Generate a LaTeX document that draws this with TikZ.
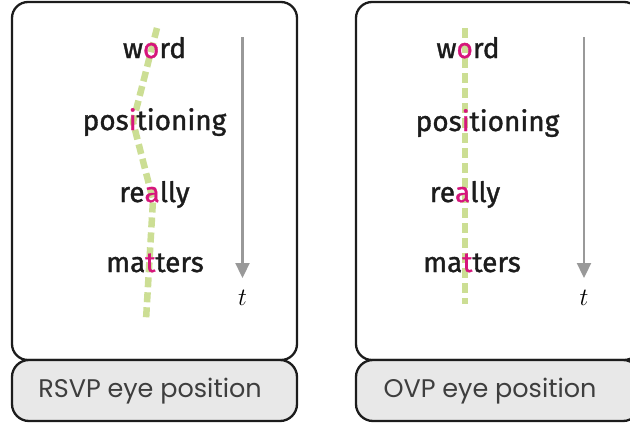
\documentclass[tikz,border=0pt]{standalone}
\usepackage{fontspec}
\setmainfont{Fira Sans}
\newfontfamily\wordfont[FakeBold=1.2]{Fira Sans}
\newfontfamily\labelfont{Poppins}
\usetikzlibrary{arrows.meta}
\definecolor{hl}{HTML}{D6167C}
\definecolor{gaze}{HTML}{CCDE94}
\definecolor{ink}{HTML}{1C1C1C}
\definecolor{boxfill}{HTML}{E8E8E8}
\definecolor{arr}{HTML}{999999}
\newcommand{\hx}[1]{\textcolor{hl}{#1}}
\begin{document}
\begin{tikzpicture}[x=1pt,y=-1pt,
  panel/.style={draw=ink,line width=2.3pt,rounded corners=16pt,fill=white},
  labelbox/.style={draw=ink,line width=2.3pt,rounded corners=17pt,fill=boxfill},
  wordtxt/.style={anchor=base,inner sep=0pt,text=ink,font=\wordfont\fontsize{28}{32}\selectfont},
  labeltxt/.style={inner sep=0pt,text=ink!85,font=\labelfont\fontsize{25.5}{30}\selectfont},
  gazeline/.style={draw=gaze,line width=6.5pt,dash pattern=on 10pt off 5pt},
  timearrow/.style={draw=arr,line width=2.3pt,-{Triangle[length=15pt,width=14pt]}},
  tlabel/.style={anchor=base,inner sep=0pt,font=\fontsize{25}{28}\selectfont\itshape}]
\useasboundingbox (0,0) rectangle (630,429);
% panels
\draw[panel] (12,2) rectangle (297,360);
\draw[panel] (356,2) rectangle (640,360);
\draw[labelbox] (12,360) rectangle (297,421);
\draw[labelbox] (356,360) rectangle (640,421);
\node[labeltxt] (lab1) at (150,391) {RSVP eye position};
\node[labeltxt] (lab2) at (490,391) {OVP eye position};
% gaze paths
\coordinate (g1a) at (157,28);
\coordinate (g1b) at (133,122);
\coordinate (g1c) at (153,200);
\coordinate (g1d) at (146,320);
\draw[gazeline] (g1a) -- (g1b) -- (g1c) -- (g1d);
\coordinate (g2a) at (465,28);
\coordinate (g2b) at (465,304);
\draw[gazeline] (g2a) -- (g2b);
% words left
\node[wordtxt] (w1) at (154.5,58) {w\hx{o}rd};
\node[wordtxt] (w2) at (154.5,130) {pos\hx{i}tioning};
\node[wordtxt] (w3) at (154.5,202) {re\hx{a}lly};
\node[wordtxt] (w4) at (155,272) {ma\hx{t}ters};
% words right
\node[wordtxt] (v1) at (468,58) {w\hx{o}rd};
\node[wordtxt] (v2) at (487.5,131) {pos\hx{i}tioning};
\node[wordtxt] (v3) at (465,202) {re\hx{a}lly};
\node[wordtxt] (v4) at (472,272) {ma\hx{t}ters};
% time arrows
\coordinate (a1s) at (242.5,37);
\coordinate (a1e) at (242.5,278);
\draw[timearrow] (a1s) -- (a1e);
\node[tlabel] (t1) at (242.5,305) {$t$};
\coordinate (a2s) at (584,37);
\coordinate (a2e) at (584,278);
\draw[timearrow] (a2s) -- (a2e);
\node[tlabel] (t2) at (584,305) {$t$};
\end{tikzpicture}
\end{document}
